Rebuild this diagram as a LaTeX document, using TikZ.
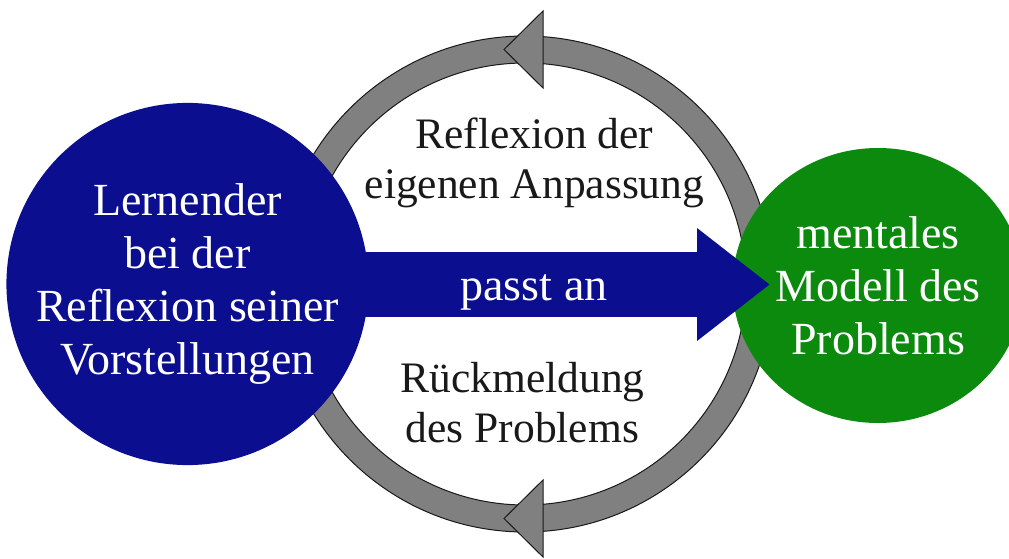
\documentclass[tikz,border=0pt]{standalone}
\usepackage{fontspec}
\setmainfont{Liberation Serif}
\usetikzlibrary{arrows.meta,calc,shapes.geometric}

\definecolor{navy}{RGB}{10,14,143}
\definecolor{leaf}{RGB}{12,138,14}
\definecolor{ringgray}{RGB}{128,128,128}
\definecolor{ink}{RGB}{25,25,25}

\tikzset{
  cyclering/.style={fill=ringgray, draw=ink, line width=1pt, even odd rule},
  cyclehead/.style={fill=ringgray, draw=ink, line width=1pt, line join=miter},
  bigtext/.style={font=\fontsize{46}{53}\selectfont, align=center, text=white},
  ringtext/.style={font=\fontsize{43.5}{50}\selectfont, align=center, text=ink, inner sep=0pt},
  learner/.style={circle, fill=navy, minimum size=356pt, inner sep=0pt, bigtext},
  mentalmodel/.style={ellipse, fill=leaf, minimum width=260pt, minimum height=275pt, inner sep=0pt, bigtext},
  fatarrow/.style={draw=navy, line width=65pt, -{Triangle[length=73pt,width=108pt]}},
}

\begin{document}
\begin{tikzpicture}[x=1pt, y=-1pt]
  \useasboundingbox (0,0) rectangle (1009,559);

  % feedback cycle: grey ring with two heads pointing left
  \coordinate (hub) at (525,284);
  \path[cyclering] (hub) circle[radius=248pt] (hub) circle[radius=221pt];
  \draw[cyclehead] ($(hub)+(18,-273)$) -- ($(hub)+(18,-196)$) -- ($(hub)+(-21,-234.5)$) -- cycle;
  \draw[cyclehead] ($(hub)+(18,196)$) -- ($(hub)+(18,273)$) -- ($(hub)+(-21,234.5)$) -- cycle;

  % the two parties
  \node[learner] (learner) at (187.5,284) {Lernender\\bei der\\Reflexion seiner\\Vorstellungen};
  \node[mentalmodel] (model) at (878,285.5) {mentales\\Modell des\\Problems};

  % adaptation arrow, its tip reaching into the model
  \coordinate (pstart) at (350,284.5);
  \draw[fatarrow, shorten >=108pt] (pstart) -- (pstart -| model.center);
  \node[font=\fontsize{46}{53}\selectfont, text=white, anchor=base, inner sep=0pt] (adapt) at (534,300) {passt an};

  % cycle labels
  \node[ringtext] (reflect) at (534.5,163) {Reflexion der\\eigenen Anpassung};
  \node[ringtext] (feedback) at (522.5,403) {Rückmeldung\\des Problems};
\end{tikzpicture}
\end{document}
